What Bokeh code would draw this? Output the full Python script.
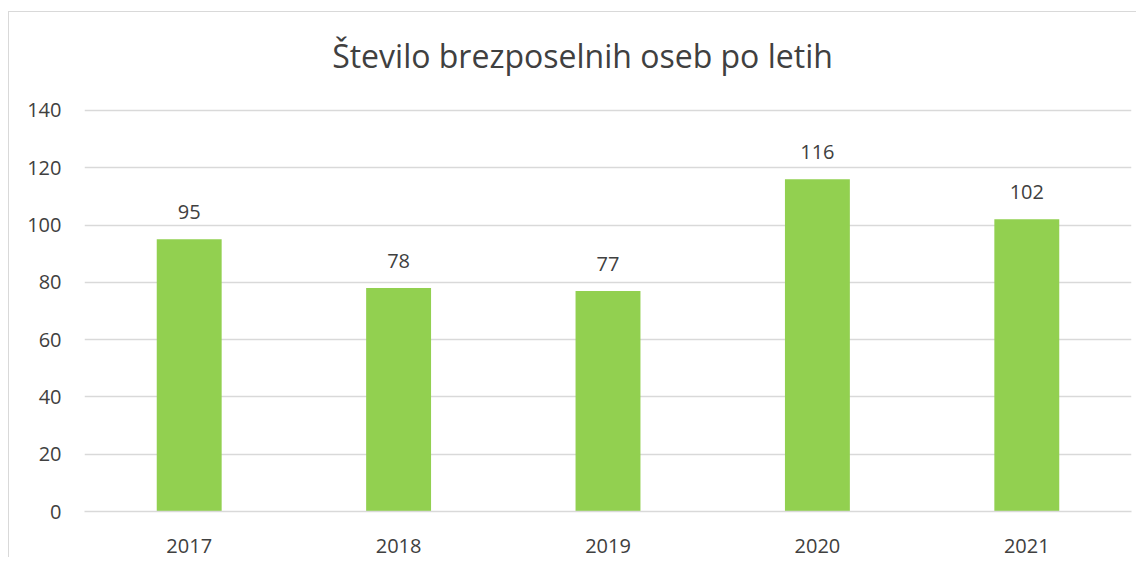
from bokeh.plotting import figure
from bokeh.models import ColumnDataSource, FixedTicker, Range1d, Label
from bokeh.core.properties import value
from bokeh.embed import file_html
from bokeh.resources import INLINE

title_text = "Število brezposelnih oseb po letih"
years = ["2017", "2018", "2019", "2020", "2021"]
counts = [95, 78, 77, 116, 102]
labels = [str(c) for c in counts]
y_ticks = [0, 20, 40, 60, 80, 100, 120, 140]

src = ColumnDataSource(dict(x=years, y=counts, lab=labels))

# y range extends above 140 so the title area sits inside the plot frame
p = figure(width=1128, height=546, x_range=years, y_range=Range1d(0, 174.2),
           output_backend="svg", toolbar_location=None,
           min_border_left=75, min_border_right=6, min_border_top=0, min_border_bottom=47)
p.title = None
p.styles = {"border-left": "1px solid #d9d9d9", "border-top": "1px solid #d9d9d9",
            "margin-top": "11px", "margin-left": "8px"}

title = Label(x=498, y=456, x_units="screen", y_units="screen", text=title_text,
              text_align="center", text_baseline="alphabetic",
              text_font="Open Sans", text_font_size="32px", text_color="#404040")
p.add_layout(title)

p.vbar(x="x", top="y", width=0.31, source=src, color="#92D050", line_color=None)
p.text(x="x", y="y", text="lab", source=src, text_align="center", text_baseline="alphabetic",
       y_offset=-27, text_font=value("Open Sans"), text_font_size="20px", text_color="#404040")

p.outline_line_color = None
p.background_fill_color = "white"
p.border_fill_color = "white"

p.xgrid.grid_line_color = None
p.ygrid.grid_line_color = "#d9d9d9"
p.ygrid.grid_line_width = 1.5

p.yaxis.ticker = FixedTicker(ticks=y_ticks)
p.yaxis.axis_line_color = None
p.yaxis.major_tick_line_color = None
p.yaxis.minor_tick_line_color = None
p.yaxis.major_label_standoff = 17
p.yaxis.major_label_text_font = "Open Sans"
p.yaxis.major_label_text_font_size = "20px"
p.yaxis.major_label_text_color = "#404040"

p.xaxis.axis_line_color = "#d9d9d9"
p.xaxis.axis_line_width = 1.5
p.xaxis.major_tick_line_color = None
p.xaxis.minor_tick_line_color = None
p.xaxis.major_label_standoff = 21
p.xaxis.major_label_text_font = "Open Sans"
p.xaxis.major_label_text_font_size = "20px"
p.xaxis.major_label_text_color = "#404040"

open("out.html", "w").write(file_html(p, INLINE))
